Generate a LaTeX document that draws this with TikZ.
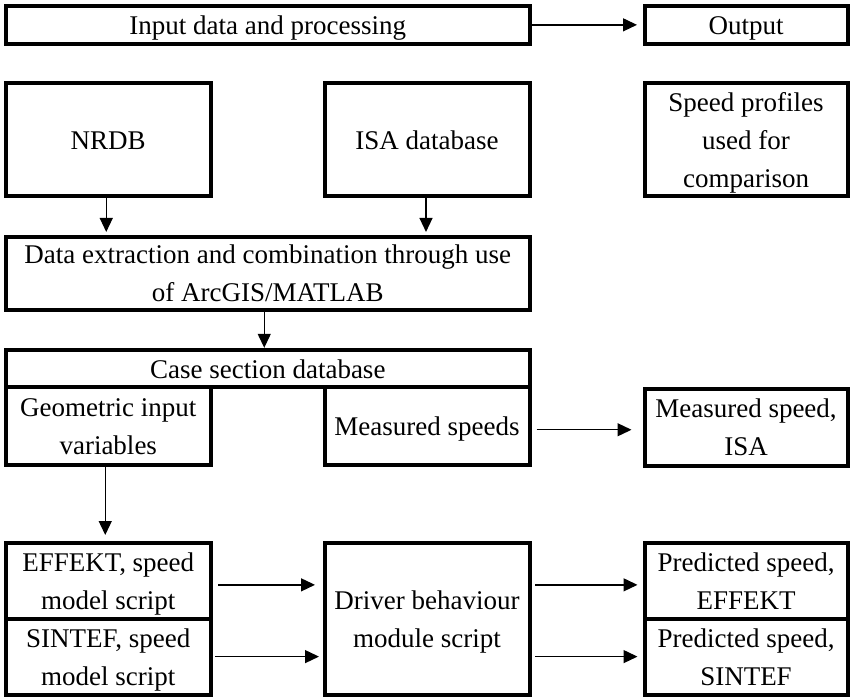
\documentclass[tikz,border=0pt]{standalone}
\usepackage{fontspec}
\setmainfont{Liberation Serif}
\usetikzlibrary{arrows.meta}
\newcommand{\topstrut}{\rule{0pt}{25pt}}
\begin{document}
\begin{tikzpicture}[x=1pt,y=-1pt,
  bx/.style={draw, line width=4pt, align=center, inner sep=0pt, font=\fontsize{27}{38}\selectfont,
    execute at begin node={\rule{0pt}{25pt}}, execute at end node={\rule[-6pt]{0pt}{6pt}}},
  arr/.style={-{Triangle[length=14pt,width=13pt]}, line width=1.3pt}]
\useasboundingbox (0,0) rectangle (850,699);
% top row
\node[bx, minimum width=523.5pt, minimum height=37.7pt] (inp) at (267.75,24.85) {Input data and processing};
\node[bx, minimum width=203pt, minimum height=37.7pt] (out) at (746,24.85) {Output};
% second row
\node[bx, minimum width=204.5pt, minimum height=113pt] (nrdb) at (108.25,139.5) {NRDB};
\node[bx, minimum width=205pt, minimum height=113pt] (isa) at (427,139.5) {ISA database};
\node[bx, minimum width=203pt, minimum height=113pt] (spp) at (746,139.5) {\topstrut Speed profiles\\used for\\comparison};
% data extraction
\node[bx, minimum width=523.5pt, minimum height=72.7pt] (data) at (267.75,273.3) {\topstrut Data extraction and combination through use\\of ArcGIS/MATLAB};
% case section database
\node[bx, minimum width=523.5pt, minimum height=36.7pt] (case) at (267.75,368.65) {Case section database};
\node[bx, minimum width=204.5pt, minimum height=77.5pt] (geo) at (108.25,425.75) {\topstrut Geometric input\\variables};
\node[bx, minimum width=205pt, minimum height=77.5pt] (meas) at (427,425.75) {Measured speeds};
\node[bx, minimum width=203pt, minimum height=76.7pt] (misa) at (746,427.15) {\topstrut Measured speed,\\ISA};
% bottom
\node[bx, minimum width=204.5pt, minimum height=75.7pt] (eff) at (108.25,580.85) {\topstrut EFFEKT, speed\\model script};
\node[bx, minimum width=204.5pt, minimum height=75.8pt] (sin) at (108.25,656.6) {\topstrut SINTEF, speed\\model script};
\node[bx, minimum width=205pt, minimum height=151.5pt] (drv) at (427,618.75) {\topstrut Driver behaviour\\module script};
\node[bx, minimum width=203pt, minimum height=75.7pt] (pe) at (746,580.85) {\topstrut Predicted speed,\\EFFEKT};
\node[bx, minimum width=203pt, minimum height=75.8pt] (ps) at (746,656.6) {\topstrut Predicted speed,\\SINTEF};
% connectors
\draw[arr, shorten >=5.5pt] (inp.east) -- (inp.east -| out.west);
\draw[arr, shorten >=3pt] ([xshift=-2pt]nrdb.south) -- ([xshift=-2pt]nrdb.south |- data.north);
\draw[arr, shorten >=3pt] ([xshift=-1pt]isa.south) -- ([xshift=-1pt]isa.south |- data.north);
\draw[arr, shorten >=0.5pt] ([xshift=-3.5pt]data.south) -- ([xshift=-3.5pt]case.north);
\draw[arr, shorten <=5pt, shorten >=11pt] ([yshift=-4pt]meas.east) -- ([yshift=-4pt]meas.east -| misa.west);
\draw[arr, shorten >=6pt] ([xshift=-3pt]geo.south) -- ([xshift=-3pt]geo.south |- eff.north);
\draw[arr, shorten <=5.5pt, shorten >=7.5pt] ([yshift=-4pt]eff.east) -- ([yshift=-4pt]eff.east -| drv.west);
\draw[arr, shorten <=2.5pt, shorten >=3.5pt] (sin.east) -- (sin.east -| drv.west);
\draw[arr, shorten <=3.5pt, shorten >=5pt] ([yshift=-4pt]pe.west -| drv.east) -- ([yshift=-4pt]pe.west);
\draw[arr, shorten <=3.5pt, shorten >=5pt] (ps.west -| drv.east) -- (ps.west);
\end{tikzpicture}
\end{document}
